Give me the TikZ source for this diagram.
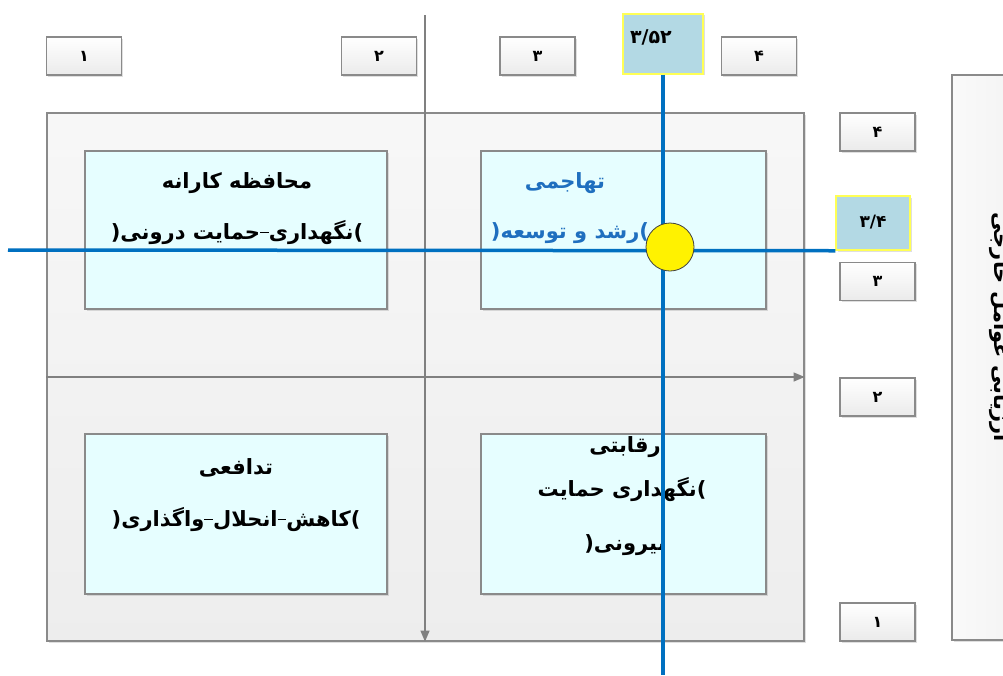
\documentclass[tikz,border=0pt]{standalone}
\usepackage{fontspec}
\setmainfont{DejaVu Sans}
\newfontfamily\fa[Script=Arabic]{DejaVu Sans}
\TeXXeTstate=1
\usetikzlibrary{arrows.meta,shadows}
\definecolor{boxline}{HTML}{8A8A8A}
\definecolor{bluel}{HTML}{0070C0}
\definecolor{bluet}{HTML}{1F6FBF}
\definecolor{cyanfill}{HTML}{E6FEFF}
\definecolor{hlfill}{HTML}{B3D9E4}
\definecolor{hlline}{HTML}{FFFF55}
\definecolor{axisgray}{HTML}{808080}
% short thin dash between words (hairline, appears grey)
\newcommand{\gd}{\hbox{\rule[0.36em]{0.42em}{0.45pt}}}
\begin{document}
\begin{tikzpicture}[x=1pt,y=-1pt,
  shd/.style={drop shadow={shadow xshift=1.5pt,shadow yshift=-1.5pt,opacity=0.25}},
  numbox/.style={draw=boxline,line width=1.2pt,top color=white,bottom color=black!8,
    minimum width=75pt,minimum height=38pt,inner sep=0pt,shd,
    font=\fa\bfseries\fontsize{16}{18}\selectfont},
  hlbox/.style={draw=hlline,line width=1.5pt,fill=hlfill,inner sep=0pt,shd,
    font=\fa\bfseries\fontsize{19}{21}\selectfont},
  bigframe/.style={draw=boxline,line width=1.2pt,top color=black!3,bottom color=black!7,
    inner sep=0pt,shd},
  quad/.style={draw=boxline,line width=1.2pt,fill=cyanfill,inner sep=0pt,shd},
  qtext/.style={font=\fa\bfseries\fontsize{21}{24}\selectfont,inner sep=0pt},
  axisline/.style={draw=axisgray,line width=1.2pt,-{Triangle[length=11pt,width=9pt]}},
  blueline/.style={draw=bluel,line width=3.5pt},
]
\useasboundingbox (0,0) rectangle (1003,675);
\clip (0,0) rectangle (1003,675);
\fill[white] (0,0) rectangle (1003,675);

% top number boxes
\node[numbox] (t1) at (84,56) {۱};
\node[numbox] (t2) at (379,56) {۲};
\node[numbox] (t3) at (537.5,56) {۳};
\node[numbox] (t4) at (759,56) {۴};
\node[hlbox,minimum width=80pt,minimum height=60pt,text width=66pt,align=left,anchor=north] (h352) at (663,13) {\raisebox{14pt}{۳/۵۲}};

% right number boxes
\node[numbox] (r4) at (877.5,132) {۴};
\node[hlbox,minimum width=74pt,minimum height=54pt,font=\fa\bfseries\fontsize{17}{19}\selectfont] (h34) at (873,223) {\raisebox{4pt}{۳/۴}};
\node[numbox] (r3) at (877.5,281.5) {۳};
\node[numbox] (r2) at (877.5,397) {۲};
\node[numbox] (r1) at (877.5,622) {۱};

% right side box
\node[bigframe,minimum width=100pt,minimum height=565pt,left color=black!2,right color=black!6] (side) at (1002,357.5) {};
\node[font=\fa\bfseries\fontsize{21}{24}\selectfont,rotate=-90,anchor=base,inner sep=0pt] (sidetext) at (994,327) {\beginR ارزیابی عوامل خارجی\endR};

% outer frame and axes
\node[bigframe,minimum width=757pt,minimum height=528pt] (outer) at (425.5,377) {};
\coordinate (vtop) at (425,15);
\draw[axisline] (vtop) -- (vtop |- outer.south);
\draw[axisline] (outer.west) -- (outer.east);

% quadrants
\node[quad,minimum width=302pt,minimum height=158pt] (q1) at (236,230) {};
\node[quad,minimum width=285pt,minimum height=158pt] (q2) at (623.5,230) {};
\node[quad,minimum width=302pt,minimum height=160pt] (q3) at (236,514) {};
\node[quad,minimum width=285pt,minimum height=160pt] (q4) at (623.5,514) {};

% quadrant texts
\node[qtext] (q1a) at (237,183) {\beginR محافظه کارانه\endR};
\node[qtext] (q1b) at (237,233) {\beginR\hbox{)}نگهداری\gd حمایت درونی\hbox{(}\endR};
\node[qtext,text=bluet] (q2a) at (565,183) {\beginR تهاجمی\endR};
\node[qtext,text=bluet] (q2b) at (570,233) {\beginR\hbox{)}رشد و توسعه\hbox{(}\endR};
\node[qtext] (q3a) at (236,468) {\beginR تدافعی\endR};
\node[qtext] (q3b) at (236,520) {\beginR\hbox{)}کاهش\gd انحلال\gd واگذاری\hbox{(}\endR};
\node[qtext] (q4a) at (625,447) {\beginR رقابتی\endR};
\node[qtext] (q4b) at (622,490) {\beginR\hbox{)}نگهداری حمایت\endR};
\node[qtext] (q4c) at (625,545) {\beginR بیرونی\hbox{(}\endR};

% blue lines
\coordinate (bleft) at (8,250);
\coordinate (bbottom) at (663,675);
\draw[blueline] (bleft) -- (h34.south west);
\draw[blueline] (h352.south) -- (bbottom);

% intersection point
\node[circle,draw=black!75,line width=0.8pt,fill=yellow,minimum size=48pt,inner sep=0pt] (dot) at (670,247) {};
\end{tikzpicture}
\end{document}
